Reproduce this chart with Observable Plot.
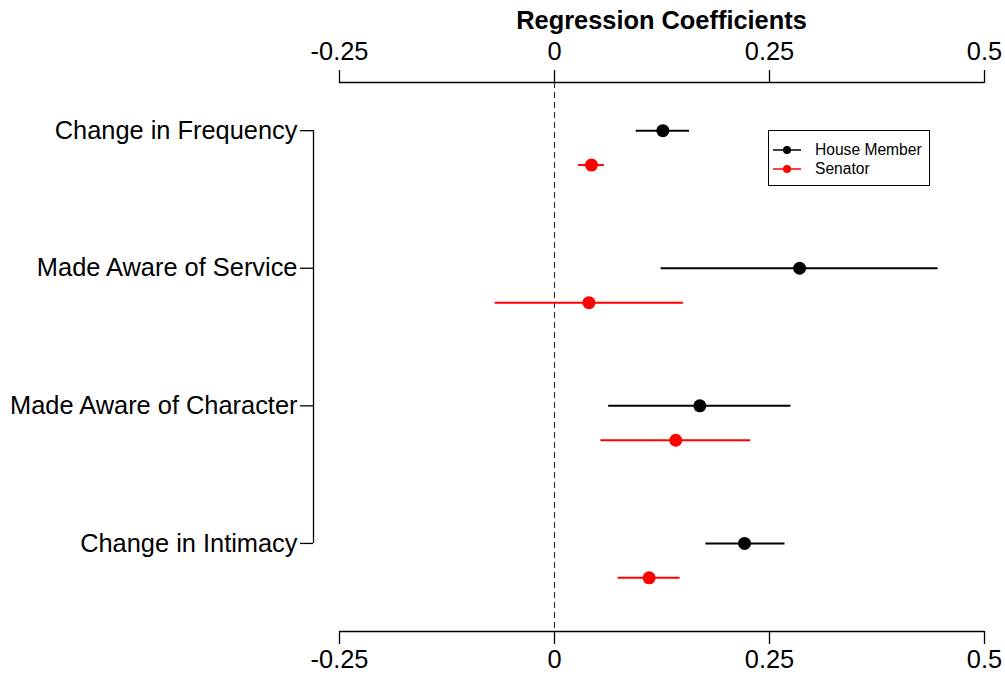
<!DOCTYPE html>
<html><head><meta charset="utf-8">
<script src="https://cdn.jsdelivr.net/npm/d3@7"></script>
<script src="https://cdn.jsdelivr.net/npm/@observablehq/plot@0.6"></script>
<style>
body{margin:0;background:#fff;font-family:"Liberation Sans",Arial,sans-serif;}
#wrap{position:relative;width:1005px;height:677px;}
#title{position:absolute;left:339px;width:645px;top:6px;text-align:center;font-weight:bold;font-size:25.4px;line-height:28px;}
.legend{position:absolute;left:768px;top:130px;width:162px;height:56px;border:1px solid #000;box-sizing:border-box;font-size:15.6px;}
.legend .row{position:absolute;left:4px;height:18px;line-height:18px;display:flex;align-items:center;}
.legend .row span{margin-left:14px;}
</style></head><body><div id="wrap"><div id="title">Regression Coefficients</div></div>
<script>
const categories = ["Change in Frequency", "Made Aware of Service", "Made Aware of Character", "Change in Intimacy"];
const series = ["House Member", "Senator"];
const colors = ["#000000", "#ff0000"];
const houseEst = [0.126, 0.285, 0.169, 0.221];
const houseLo  = [0.095, 0.124, 0.063, 0.176];
const houseHi  = [0.157, 0.446, 0.275, 0.268];
const senEst   = [0.043, 0.040, 0.141, 0.110];
const senLo    = [0.028, -0.069, 0.054, 0.074];
const senHi    = [0.058, 0.150, 0.228, 0.146];
const xTicks = [-0.25, 0, 0.25, 0.5];

const rowOffset = 0.25;
const yDomain = [-0.35, 3.64];
const rows = [];
categories.forEach((c, i) => {
  rows.push({cat: c, series: series[0], pos: i, est: houseEst[i], lo: houseLo[i], hi: houseHi[i]});
  rows.push({cat: c, series: series[1], pos: i + rowOffset, est: senEst[i], lo: senLo[i], hi: senHi[i]});
});
const catIdx = categories.map((c, i) => i);
const fs = 25.4;

const chart = Plot.plot({
  width: 1005,
  height: 677,
  marginLeft: 339,
  marginRight: 21,
  marginTop: 82,
  marginBottom: 46,
  style: {fontFamily: '"Liberation Sans", Arial, sans-serif', fontSize: fs + "px", background: "transparent", color: "#000"},
  x: {domain: [xTicks[0], xTicks[xTicks.length - 1]]},
  y: {domain: yDomain, reverse: true},
  color: {domain: series, range: colors},
  marks: [
    Plot.ruleX([0], {stroke: "#333", strokeDasharray: "6,4", strokeWidth: 1.2}),
    Plot.ruleY([yDomain[0], yDomain[1]], {x1: xTicks[0], x2: xTicks[xTicks.length - 1], stroke: "#000", strokeWidth: 1.3}),
    Plot.axisX({anchor: "top", ticks: xTicks, tickFormat: d => String(d), tickSize: 13, tickPadding: 10, fontSize: fs, label: null, strokeWidth: 1.3}),
    Plot.axisX({anchor: "bottom", ticks: xTicks, tickFormat: d => String(d), tickSize: 13, tickPadding: 5, fontSize: fs, label: null, strokeWidth: 1.3}),
    Plot.ruleX([xTicks[0]], {y1: catIdx[0], y2: catIdx[catIdx.length - 1], dx: -26, stroke: "#000", strokeWidth: 1.3}),
    Plot.axisY({anchor: "left", ticks: catIdx, tickFormat: i => categories[i], tickSize: 13, tickPadding: 3, dx: -26, fontSize: fs, label: null, strokeWidth: 1.3}),
    Plot.ruleY(rows, {y: "pos", x1: "lo", x2: "hi", stroke: "series", strokeWidth: 2}),
    Plot.dot(rows, {x: "est", y: "pos", fill: "series", r: 6.5})
  ]
});
const wrap = document.getElementById("wrap");
wrap.appendChild(chart);
chart.style.position = "absolute";
chart.style.left = "0";
chart.style.top = "0";

const legend = document.createElement("div");
legend.className = "legend";
series.forEach((s, i) => {
  const row = document.createElement("div");
  row.className = "row";
  row.style.top = (10 + i * 19) + "px";
  row.innerHTML = `<svg width="28" height="10"><line x1="0" y1="5" x2="28" y2="5" stroke="${colors[i]}" stroke-width="1.5"/><circle cx="14" cy="5" r="4" fill="${colors[i]}"/></svg><span>${s}</span>`;
  legend.appendChild(row);
});
wrap.appendChild(legend);
</script>
</body></html>
